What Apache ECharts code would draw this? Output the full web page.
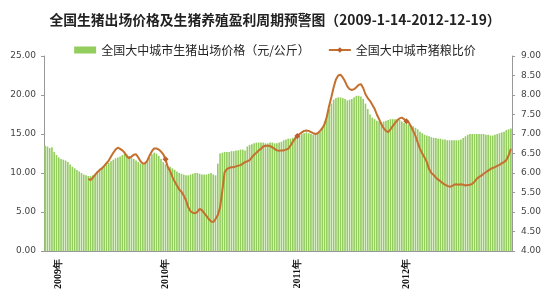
<!DOCTYPE html>
<html><head><meta charset="utf-8">
<script src="https://cdn.jsdelivr.net/npm/echarts@6/dist/echarts.min.js"></script>
<style>html,body{margin:0;padding:0;background:#fff}#c{width:550px;height:300px}</style>
</head><body><div id="c"></div>
<script>
// Weekly categories 2009-1-14 .. 2012-12-19
const startDate = new Date(2009, 0, 14);
const weekCount = 206;
const categories = [];
for (let i = 0; i < weekCount; i++) {
  const d = new Date(startDate.getTime() + i * 7 * 86400000);
  categories.push(d.getFullYear() + '-' + (d.getMonth() + 1) + '-' + d.getDate());
}
const yearLabels = ['2009年', '2010年', '2011年', '2012年'];
const yearLabelIndex = [6, 53, 111, 159];

const leftTicks = ['0.00','5.00','10.00','15.00','20.00','25.00'];
const rightTicks = ['4.00','4.50','5.00','5.50','6.00','6.50','7.00','7.50','8.00','8.50','9.00'];

// 全国大中城市生猪出场价格（元/公斤）
const priceValues = [
  13.5,13.4,13.2,13.3,12.7, 12.3,12.0,11.8,11.7,11.6, 11.4,11.1,10.8,10.6,10.4, 10.2,10.0,9.8,9.7,9.6,
  9.6,9.7,9.9,10.2,10.4, 10.6,10.8,11.1,11.3,11.5, 11.7,11.9,12.0,12.1,12.3, 12.5,12.4,12.2,11.9,11.8,
  11.6,11.4,11.2,11.1,11.3, 11.6,12.0,12.4,12.6,12.5, 12.2,11.8,11.4,11.1,10.9, 10.8,10.6,10.4,10.2,10.0,
  9.9,9.8,9.7,9.7,9.8, 9.9,10.0,10.0,9.9,9.8, 9.8,9.8,9.9,10.0,9.8, 9.7,11.2,12.5,12.6,12.7,
  12.7,12.7,12.8,12.8,12.9, 12.9,13.0,13.0,12.9,13.4, 13.6,13.7,13.8,13.9,13.9, 13.9,13.9,13.8,13.8,13.9,
  13.9,13.8,13.8,13.9,14.0, 14.2,14.3,14.4,14.4,14.5, 14.6,14.7,14.8,15.0,15.1, 15.2,15.1,15.0,14.9,15.0,
  15.1,15.3,15.8,16.6,17.4, 18.2,18.9,19.4,19.6,19.7, 19.7,19.6,19.5,19.3,19.4, 19.5,19.7,19.9,19.9,19.8,
  19.5,18.9,18.2,17.5,17.1, 16.9,16.7,16.6,16.5,16.6, 16.7,16.8,16.9,16.9,16.9, 16.9,16.8,16.6,16.4,16.3,
  16.2,16.1,16.0,15.8,15.6, 15.3,15.1,14.9,14.8,14.7, 14.6,14.5,14.5,14.4,14.4, 14.3,14.3,14.2,14.2,14.2,
  14.2,14.2,14.2,14.3,14.5, 14.7,14.9,15.0,15.0,15.0, 15.0,15.0,15.0,15.0,14.9, 14.9,14.8,14.8,14.9,15.0,
  15.1,15.2,15.3,15.5,15.6,15.7
];

// 全国大中城市猪粮比价 (starts at week index 19)
const ratioStart = 19;
const ratioValues = [
  5.85,5.82,5.88,5.95,6.02,6.08,6.12,6.18,6.25,6.32,6.42,6.52,6.60,6.65,6.62,6.58,6.52,6.42,6.38,6.42,
  6.47,6.48,6.40,6.30,6.24,6.25,6.32,6.45,6.56,6.63,6.63,6.60,6.55,6.48,6.35,6.15,6.05,5.90,5.78,5.68,
  5.58,5.52,5.42,5.30,5.12,5.02,4.98,4.97,5.00,5.08,5.05,4.97,4.90,4.82,4.76,4.74,4.82,4.92,5.12,5.55,
  6.02,6.10,6.13,6.15,6.15,6.17,6.19,6.20,6.24,6.28,6.30,6.33,6.40,6.47,6.52,6.58,6.62,6.68,6.70,6.70,
  6.69,6.66,6.62,6.58,6.57,6.58,6.58,6.60,6.62,6.70,6.80,6.88,6.95,7.00,7.04,7.08,7.09,7.08,7.05,7.02,
  7.00,7.02,7.08,7.15,7.25,7.45,7.72,7.95,8.20,8.40,8.50,8.52,8.45,8.35,8.22,8.15,8.13,8.15,8.20,8.26,
  8.28,8.18,8.02,7.92,7.85,7.75,7.65,7.50,7.38,7.25,7.15,7.08,7.05,7.12,7.20,7.28,7.35,7.40,7.42,7.38,
  7.33,7.30,7.20,7.08,6.95,6.78,6.62,6.50,6.40,6.28,6.10,6.00,5.95,5.88,5.83,5.79,5.74,5.70,5.67,5.65,
  5.66,5.70,5.71,5.70,5.71,5.70,5.68,5.69,5.70,5.72,5.78,5.85,5.90,5.93,5.98,6.02,6.06,6.10,6.13,6.15,
  6.18,6.21,6.25,6.28,6.33,6.45,6.62
];
const ratioSeries = [];
for (let i = 0; i < weekCount; i++) {
  const k = i - ratioStart;
  ratioSeries.push(k >= 0 && k < ratioValues.length ? ratioValues[k] : null);
}

const chart = echarts.init(document.getElementById('c'), null, {renderer: 'canvas'});
const font = '"Noto Sans CJK SC", "Noto Sans", sans-serif';
chart.setOption({
  animation: false,
  backgroundColor: '#ffffff',
  title: {
    text: '全国生猪出场价格及生猪养殖盈利周期预警图（2009-1-14-2012-12-19）',
    left: 'center', top: 8,
    textStyle: {fontFamily: font, fontSize: 13.8, fontWeight: 'bold', color: '#222'}
  },
  legend: {
    top: 39, left: 'center', itemGap: 18, itemWidth: 22, itemHeight: 7,
    textStyle: {fontFamily: font, fontSize: 12, color: '#222'},
    data: [
      {name: '全国大中城市生猪出场价格（元/公斤）', icon: 'rect'},
      {name: '全国大中城市猪粮比价'}
    ]
  },
  grid: {left: 44, right: 38, top: 56, bottom: 49, containLabel: false},
  xAxis: {
    type: 'category', data: categories, boundaryGap: true,
    axisLine: {lineStyle: {color: '#999'}},
    axisTick: {show: false},
    axisLabel: {
      rotate: 90, fontSize: 10, fontWeight: 'bold', color: '#111', fontFamily: '"Liberation Serif", serif', margin: 8,
      interval: (idx) => yearLabelIndex.indexOf(idx) >= 0,
      formatter: (v, idx) => { const k = yearLabelIndex.indexOf(idx); return k >= 0 ? yearLabels[k] : ''; }
    }
  },
  yAxis: [
    {
      type: 'value', min: 0, max: 25, interval: 5,
      axisLine: {show: true, lineStyle: {color: '#999'}},
      axisTick: {show: true, length: 3, lineStyle: {color: '#999'}},
      splitLine: {show: false},
      axisLabel: {fontSize: 9, color: '#444', fontFamily: '"DejaVu Sans", sans-serif', margin: 8,
        formatter: (v) => leftTicks[Math.round(v / 5)] }
    },
    {
      type: 'value', min: 4, max: 9, interval: 0.5,
      axisLine: {show: true, lineStyle: {color: '#999'}},
      axisTick: {show: true, length: 3, lineStyle: {color: '#999'}},
      splitLine: {show: false},
      axisLabel: {fontSize: 9, color: '#444', fontFamily: '"DejaVu Sans", sans-serif', margin: 9,
        formatter: (v) => rightTicks[Math.round((v - 4) / 0.5)] }
    }
  ],
  series: [
    {
      name: '全国大中城市生猪出场价格（元/公斤）', type: 'bar', yAxisIndex: 0,
      data: priceValues, barCategoryGap: '28%',
      itemStyle: {color: '#93CD5E'}
    },
    {
      name: '全国大中城市猪粮比价', type: 'line', yAxisIndex: 1,
      data: ratioSeries, connectNulls: false,
      symbol: 'diamond', symbolSize: 6, showSymbol: true,
      lineStyle: {color: '#C4702E', width: 2},
      itemStyle: {color: '#BC5F2A'}
    }
  ]
});
</script>
</body></html>
